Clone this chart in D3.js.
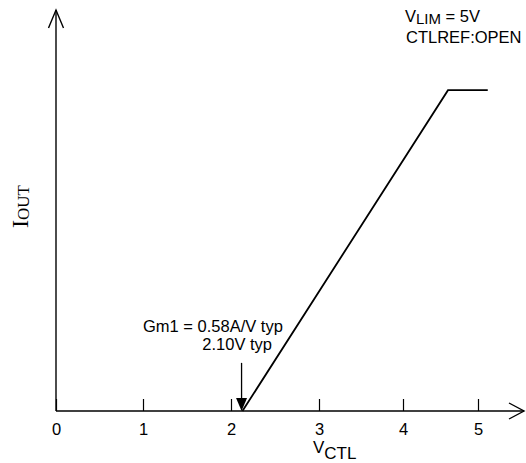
<!DOCTYPE html>
<html>
<head>
<meta charset="utf-8">
<script src="https://cdn.jsdelivr.net/npm/d3@7"></script>
<style>
  html, body { margin: 0; padding: 0; background: #fff; }
  svg { display: block; }
  .sans { font-family: "Liberation Sans", Arial, sans-serif; fill: #000; }
  .serif { font-family: "Liberation Serif", "Times New Roman", serif; fill: #000; }
</style>
</head>
<body>
<div id="chart"></div>
<script>
// control voltage ticks (V)
const vTicks = [0, 1, 2, 3, 4, 5];
// transfer curve: V_CTL (V) vs normalised I_OUT
const vctl = [2.13, 4.6, 5.13];
const iout = [0, 0.8, 0.8];
// threshold marker
const threshold = 2.12;
const notes = ['Gm1 = 0.58A/V typ', '2.10V typ'];

const width = 526, height = 463;

const svg = d3.select('#chart').append('svg')
  .attr('width', width).attr('height', height);

// hand drawn axis, ticks are not quite evenly spaced
const x = d3.scaleLinear().domain(vTicks).range([56, 143, 231, 319, 403, 478]);
const y = d3.scaleLinear().domain([0, 1]).range([411, 10]);

// x axis
const xAxis = d3.axisBottom(x)
  .tickValues(vTicks)
  .tickSizeInner(-12)
  .tickSizeOuter(0)
  .tickPadding(12)
  .tickFormat(d3.format('d'));

const gx = svg.append('g').attr('transform', 'translate(0,' + y(0) + ')').call(xAxis);
gx.select('.domain').remove();
gx.selectAll('.tick line').attr('stroke', '#000').attr('stroke-width', 1.2);
gx.selectAll('.tick text').attr('class', 'sans').style('font-size', '16.5px');

// axis lines with open arrowheads
const axisPath = d3.line();
svg.append('path')
  .attr('d', axisPath([[x(0), y(0)], [524, y(0)]]))
  .attr('stroke', '#000').attr('stroke-width', 1.4).attr('fill', 'none');
svg.append('path')
  .attr('d', axisPath([[509, y(0) - 8], [524, y(0)], [509, y(0) + 8]]))
  .attr('stroke', '#000').attr('stroke-width', 1.4).attr('fill', 'none');
svg.append('path')
  .attr('d', axisPath([[x(0), y(0)], [x(0), y(1)]]))
  .attr('stroke', '#000').attr('stroke-width', 1.4).attr('fill', 'none');
svg.append('path')
  .attr('d', axisPath([[x(0) - 7.5, y(1) + 18], [x(0), y(1)], [x(0) + 7.5, y(1) + 18]]))
  .attr('stroke', '#000').attr('stroke-width', 1.4).attr('fill', 'none');

// transfer curve
const curve = d3.line().x(d => x(d[0])).y(d => y(d[1]));
svg.append('path')
  .attr('d', curve(d3.zip(vctl, iout)))
  .attr('stroke', '#000').attr('stroke-width', 1.8).attr('fill', 'none');

// threshold arrow
svg.append('line')
  .attr('x1', x(threshold)).attr('x2', x(threshold))
  .attr('y1', y(0.12)).attr('y2', y(0) - 10)
  .attr('stroke', '#000').attr('stroke-width', 1.3);
svg.append('path')
  .attr('d', axisPath([[x(threshold) - 5.5, y(0) - 13], [x(threshold) + 5.5, y(0) - 13], [x(threshold), y(0)]]) + 'Z')
  .attr('fill', '#000');

// annotations
svg.append('text').attr('class', 'sans').attr('x', 143).attr('y', 332)
  .style('font-size', '16.5px').text(notes[0]);
svg.append('text').attr('class', 'sans').attr('x', 272).attr('y', 350)
  .attr('text-anchor', 'end')
  .style('font-size', '16.5px').text(notes[1]);

const vlim = svg.append('text').attr('class', 'sans').attr('x', 405).attr('y', 22)
  .style('font-size', '16.5px');
vlim.append('tspan').text('V');
vlim.append('tspan').attr('dy', 2).style('font-size', '15px').text('LIM');
vlim.append('tspan').attr('dy', -2).text(' = 5V');
svg.append('text').attr('class', 'sans').attr('x', 406).attr('y', 43)
  .style('font-size', '16.5px').text('CTLREF:OPEN');

// axis titles
const xt = svg.append('text').attr('class', 'sans').attr('x', 313).attr('y', 453)
  .style('font-size', '17px');
xt.append('tspan').text('V');
xt.append('tspan').attr('dy', 6).text('CTL');

const yt = svg.append('text').attr('class', 'serif')
  .attr('transform', 'translate(28,228) rotate(-90)');
yt.append('tspan').style('font-size', '24px').text('I');
yt.append('tspan').style('font-size', '17px').attr('dy', 1).text('OUT');
</script>
</body>
</html>
